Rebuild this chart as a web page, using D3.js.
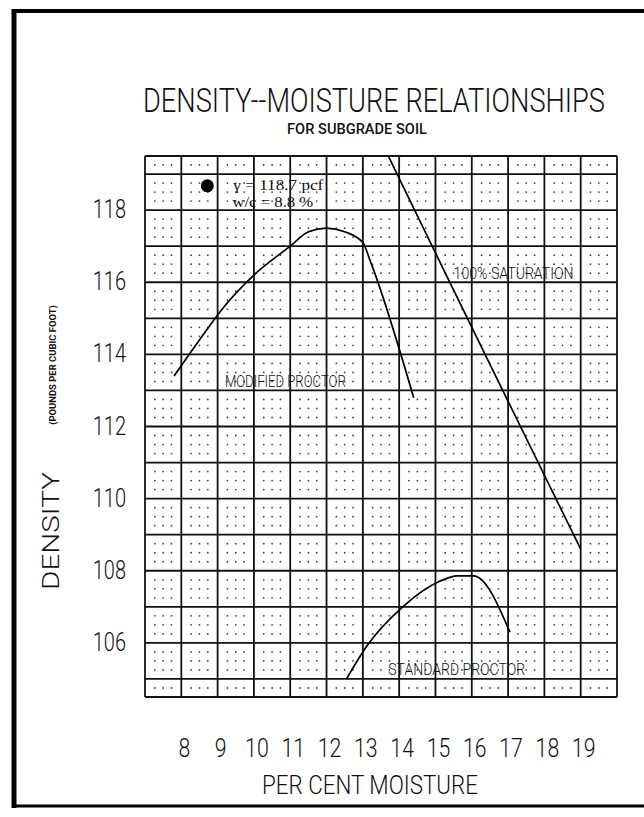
<!DOCTYPE html>
<html>
<head>
<meta charset="utf-8">
<script src="https://cdn.jsdelivr.net/npm/d3@7"></script>
<style>
  body { margin: 0; background: #fff; }
  svg { display: block; }
  .narrow { font-family: Roboto, 'Liberation Sans Narrow', sans-serif; font-weight: 300; fill: #111; }
  .serif { font-family: 'Liberation Serif', 'DejaVu Serif', serif; fill: #111; }
</style>
</head>
<body>
<svg id="chart" width="644" height="817"></svg>
<script>
// moisture ticks (per cent) and density ticks (pcf)
var moistureTicks = [8, 9, 10, 11, 12, 13, 14, 15, 16, 17, 18, 19];
var densityTicks = [106, 108, 110, 112, 114, 116, 118];

// curves: [moisture %, density pcf]
var modifiedProctor = [[7.8, 113.4], [8.5, 114.4], [9.2, 115.35], [10.0, 116.2], [11.0, 117.0],
	[11.5, 117.4], [12.0, 117.5], [12.5, 117.4], [13.0, 117.1], [13.2, 116.6], [14.4, 112.8]];
var saturation = [[13.7, 119.5], [15.2, 116.4], [17.0, 112.7], [19.0, 108.6]];
var standardProctor = [[12.55, 105.0], [13.1, 105.9], [14.1, 107.0], [15.1, 107.7],
	[15.6, 107.86], [16.05, 107.86], [17.05, 106.3]];

// test point
var point = {w: 8.8, density: 118.7};
var pointText = ['\u03b3 = 118.7 pcf', 'w/c = 8.8 %'];

var svg = d3.select('#chart');

var x = d3.scaleLinear().domain([7, 20]).range([145, 617]);
var y = d3.scaleLinear().domain([104.5, 119.5]).range([697, 156]);

// lettering squeezed horizontally to a given width (or by a fixed factor)
function lettering(str, cx, cy, size, width, opts) {
	opts = opts || {};
	var t = svg.append('text').attr('class', opts.cls || 'narrow')
		.attr('text-anchor', opts.anchor || 'middle')
		.attr('font-size', size)
		.text(str);
	if (opts.weight) t.style('font-weight', opts.weight);
	var k = width ? width / t.node().getComputedTextLength() : (opts.k || 1);
	t.attr('transform', 'translate(' + cx + ',' + cy + ')' + (opts.rotate ? ' rotate(' + opts.rotate + ')' : '') + ' scale(' + k + ',1)');
	return t;
}

function drawFrame() {
	var f = svg.append('g').attr('fill', 'none').attr('stroke', '#000');
	f.append('line').attr('x1', 14).attr('x2', 14).attr('y1', 9).attr('y2', 808).attr('stroke-width', 5);
	f.append('line').attr('x1', 12).attr('x2', 644).attr('y1', 11).attr('y2', 11).attr('stroke-width', 4);
	f.append('line').attr('x1', 12).attr('x2', 644).attr('y1', 806).attr('y2', 806).attr('stroke-width', 3);
}

function drawPaper() {
	var g = svg.append('g');
	var cols = d3.range(7, 21);
	var rows = [104.5].concat(d3.range(105, 120)).concat([119.5]);

	// dots inside each cell
	var dots = [];
	for (var i = 0; i < cols.length - 1; i++) {
		for (var j = 0; j < rows.length - 1; j++) {
			var r0 = rows[j], r1 = rows[j + 1];
			var fr = (r1 - r0) < 1 ? [0.5] : [0.25, 0.5, 0.75];
			[0.27, 0.5, 0.73].forEach(function(a) {
				fr.forEach(function(b) {
					dots.push([cols[i] + a, r0 + b * (r1 - r0)]);
				});
			});
		}
	}
	g.selectAll('circle.dot').data(dots).enter().append('circle')
		.attr('class', 'dot')
		.attr('cx', function(d) { return x(d[0]); })
		.attr('cy', function(d) { return y(d[1]); })
		.attr('r', 0.9)
		.attr('fill', '#444');

	g.selectAll('line.v').data(cols).enter().append('line')
		.attr('class', 'v')
		.attr('x1', function(d) { return x(d); }).attr('x2', function(d) { return x(d); })
		.attr('y1', y(119.5)).attr('y2', y(104.5))
		.attr('stroke', '#111').attr('stroke-width', 1.8);
	g.selectAll('line.h').data(rows).enter().append('line')
		.attr('class', 'h')
		.attr('y1', function(d) { return y(d); }).attr('y2', function(d) { return y(d); })
		.attr('x1', x(7)).attr('x2', x(20))
		.attr('stroke', '#111').attr('stroke-width', 1.8);
}

function drawCurves() {
	var line = d3.line()
		.x(function(d) { return x(d[0]); })
		.y(function(d) { return y(d[1]); })
		.curve(d3.curveMonotoneX);
	var g = svg.append('g').attr('fill', 'none').attr('stroke', '#000').attr('stroke-width', 1.7);
	[modifiedProctor, saturation, standardProctor].forEach(function(c) {
		g.append('path').attr('d', line(c));
	});

	svg.append('circle')
		.attr('cx', x(point.w) - 3).attr('cy', y(point.density) + 1).attr('r', 6.5)
		.attr('fill', '#000');

	lettering(pointText[0], x(point.w) + 23, y(point.density) + 5, 15, 90, {cls: 'serif', anchor: 'start'});
	lettering(pointText[1], x(point.w) + 22, y(point.density) + 22, 15, 81, {cls: 'serif', anchor: 'start'});

	lettering('MODIFIED PROCTOR', x(9.2), y(113.1), 17, 121, {anchor: 'start'});
	lettering('100% SATURATION', x(15.5), y(116.1), 17, 120, {anchor: 'start'});
	lettering('STANDARD PROCTOR', x(13.7), y(105.1), 17, 137, {anchor: 'start'});
}

function drawAxes() {
	moistureTicks.forEach(function(d) {
		lettering(String(d), x(d) + 3, 757, 26, null, {k: 0.82});
	});
	densityTicks.forEach(function(d) {
		lettering(String(d), 126, y(d) + 8, 25, null, {k: 0.8, anchor: 'end'});
	});

	lettering('PER CENT MOISTURE', 370, 794, 26, 216);
	lettering('DENSITY', 59, 531, 24, 118, {rotate: -90});
	lettering('(POUNDS PER CUBIC FOOT)', 56, 365, 9, 120, {rotate: -90, weight: 'bold'});
	lettering('DENSITY--MOISTURE RELATIONSHIPS', 374, 112, 33, 462);
	lettering('FOR SUBGRADE SOIL', 357, 134, 14, 140, {weight: 500});
}

drawFrame();
drawPaper();
drawCurves();
drawAxes();
</script>
</body>
</html>
